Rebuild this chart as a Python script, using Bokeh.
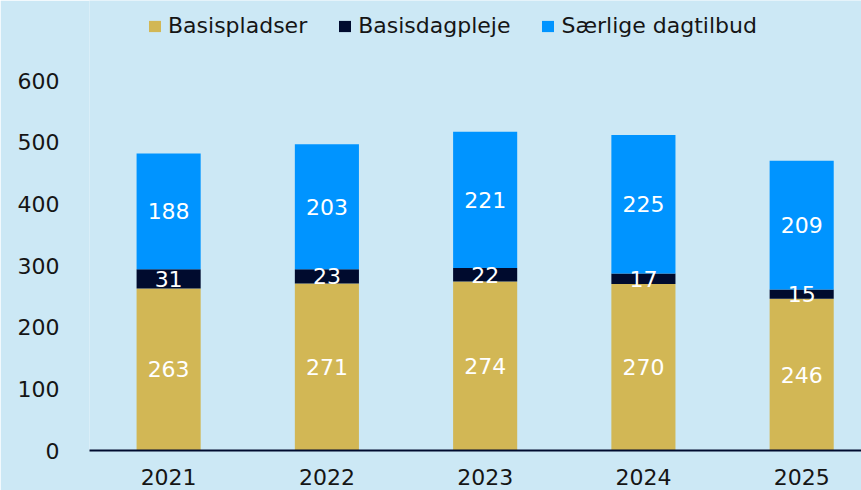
from bokeh.plotting import figure
from bokeh.models import ColumnDataSource, FixedTicker, Range1d, LabelSet
from bokeh.embed import file_html
from bokeh.resources import INLINE
from bokeh.core.properties import value

years = [2021, 2022, 2023, 2024, 2025]
year_labels = ["2021", "2022", "2023", "2024", "2025"]
basispladser = [263, 271, 274, 270, 246]
basisdagpleje = [31, 23, 22, 17, 15]
saerlige = [188, 203, 221, 225, 209]
series = ["Basispladser", "Basisdagpleje", "Særlige dagtilbud"]
colors = ["#d2b755", "#000b2e", "#0094ff"]
y_ticks = [0, 100, 200, 300, 400, 500, 600]

BG = "#cce8f5"
FONT = "DejaVu Sans"
TXT = "#151515"

src = ColumnDataSource(dict(x=years))
src.data["Basispladser"] = basispladser
src.data["Basisdagpleje"] = basisdagpleje
src.data["Særlige dagtilbud"] = saerlige

# label positions from cumulative data (segment centres)
c1 = [b / 2 for b in basispladser]
c2 = [b + d / 2 for b, d in zip(basispladser, basisdagpleje)]
c3 = [b + d + s / 2 for b, d, s in zip(basispladser, basisdagpleje, saerlige)]
lab = ColumnDataSource(dict(
    x=years * 3,
    y=c1 + c2 + c3,
    t=[str(v) for v in basispladser + basisdagpleje + saerlige],
))

p = figure(width=861, height=490, output_backend="svg", toolbar_location=None,
           x_range=Range1d(2020.5, 2025.378), y_range=Range1d(0, 730),
           min_border_left=89, min_border_right=0, min_border_top=0, min_border_bottom=40)
p.background_fill_color = BG
p.border_fill_color = BG
p.outline_line_color = None
p.xgrid.visible = False
p.ygrid.visible = False

p.vbar_stack(series, x="x", width=0.405, color=colors, line_color=None, source=src,
             legend_label=series)

labels = LabelSet(x="x", y="y", text="t", source=lab, text_color="white",
                  text_font=value(FONT), text_font_size="22px",
                  text_align="center", text_baseline="middle")
p.add_layout(labels)

p.xaxis.ticker = FixedTicker(ticks=years)
p.xaxis.major_label_overrides = {y: l for y, l in zip(years, year_labels)}
p.xaxis.axis_line_color = "#000b2e"
p.xaxis.axis_line_width = 2
p.xaxis.major_tick_line_color = None
p.xaxis.minor_tick_line_color = None
p.xaxis.major_label_standoff = 12
p.xaxis.major_label_text_font = FONT
p.xaxis.major_label_text_font_size = "22px"
p.xaxis.major_label_text_color = TXT

p.yaxis.ticker = FixedTicker(ticks=y_ticks)
p.yaxis.axis_line_color = None
p.yaxis.major_tick_line_color = None
p.yaxis.minor_tick_line_color = None
p.yaxis.major_label_standoff = 24
p.yaxis.major_label_text_font = FONT
p.yaxis.major_label_text_font_size = "22px"
p.yaxis.major_label_text_color = TXT

leg = p.legend[0]
leg.location = (58, 412)
leg.orientation = "horizontal"
leg.background_fill_alpha = 0
leg.border_line_color = None
leg.margin = 0
leg.padding = 0
leg.spacing = 30
leg.glyph_width = 15
leg.glyph_height = 14
leg.label_standoff = 6
leg.label_text_font = FONT
leg.label_text_font_size = "22px"
leg.label_text_color = TXT

open("out.html", "w").write(file_html(p, INLINE))
